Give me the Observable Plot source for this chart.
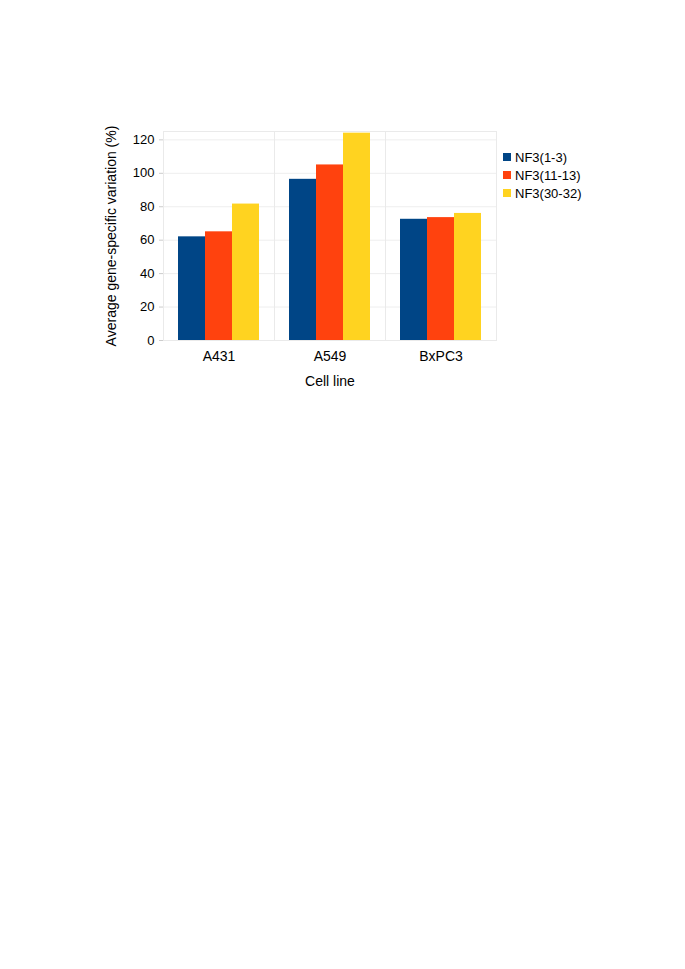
<!DOCTYPE html>
<html>
<head>
<meta charset="utf-8">
<script src="https://cdn.jsdelivr.net/npm/d3@7"></script>
<script src="https://cdn.jsdelivr.net/npm/@observablehq/plot@0.6"></script>
<style>
  html, body { margin: 0; padding: 0; background: #fff; }
  #wrap { position: relative; width: 685px; font-family: "Liberation Sans", Arial, sans-serif; }
  #legend { position: absolute; left: 503px; top: 148px; font-size: 13px; color: #000; }
  .row { display: flex; align-items: center; height: 18px; }
  .sw { width: 8px; height: 8px; margin-right: 4px; }
</style>
</head>
<body>
<div id="wrap"></div>
<script>
const cellLines = ["A431", "A549", "BxPC3"];
const seriesNames = ["NF3(1-3)", "NF3(11-13)", "NF3(30-32)"];
const valuesNF3_1_3 = [62, 96.4, 72.5];
const valuesNF3_11_13 = [65, 105, 73.5];
const valuesNF3_30_32 = [81.6, 124, 76];
const seriesColors = ["#004586", "#ff420e", "#ffd320"];
const yTicks = [0, 20, 40, 60, 80, 100, 120];

const seriesValues = [valuesNF3_1_3, valuesNF3_11_13, valuesNF3_30_32];
const data = [];
cellLines.forEach((c, i) => {
  seriesNames.forEach((s, j) => {
    data.push({cell: c, series: s, value: seriesValues[j][i]});
  });
});

const chart = Plot.plot({
  width: 685,
  height: 400,
  marginLeft: 162,
  marginRight: 188,
  marginTop: 131,
  marginBottom: 60,
  style: {fontFamily: "Liberation Sans, Arial, sans-serif", fontSize: "13px", color: "#000"},
  fx: {domain: cellLines, padding: 0},
  x: {domain: seriesNames, paddingInner: 0, paddingOuter: 0.52, axis: null},
  y: {domain: [0, 125]},
  color: {domain: seriesNames, range: seriesColors},
  marks: [
    Plot.gridY(yTicks, {stroke: "#eeeeee", strokeOpacity: 1}),
    Plot.frame({stroke: "#eaeaea", strokeOpacity: 1}),
    Plot.barY(data, {fx: "cell", x: "series", y: "value", fill: "series"}),
    Plot.axisY(yTicks, {
      tickSize: 4, tickPadding: 5, stroke: "#cccccc", fontSize: 13,
      label: "Average gene-specific variation (%)", labelAnchor: "center", labelArrow: "none",
      labelOffset: 57, labelFontSize: 14
    }),
    Plot.axisFx({
      anchor: "bottom",
      tickSize: 0, tickPadding: 11, fontSize: 14,
      label: "Cell line", labelAnchor: "center", labelArrow: "none", labelOffset: 45
    })
  ]
});
document.getElementById("wrap").appendChild(chart);

// y-axis label font size
chart.querySelectorAll("g[aria-label='y-axis label'] text").forEach(t => t.setAttribute("font-size", 14));
chart.querySelectorAll("g[aria-label='fx-axis label'] text").forEach(t => t.setAttribute("font-size", 14));

const legend = document.createElement("div");
legend.id = "legend";
seriesNames.forEach((s, j) => {
  const row = document.createElement("div");
  row.className = "row";
  const sw = document.createElement("div");
  sw.className = "sw";
  sw.style.background = seriesColors[j];
  const t = document.createElement("span");
  t.textContent = s;
  row.appendChild(sw);
  row.appendChild(t);
  legend.appendChild(row);
});
document.getElementById("wrap").appendChild(legend);
</script>
</body>
</html>
